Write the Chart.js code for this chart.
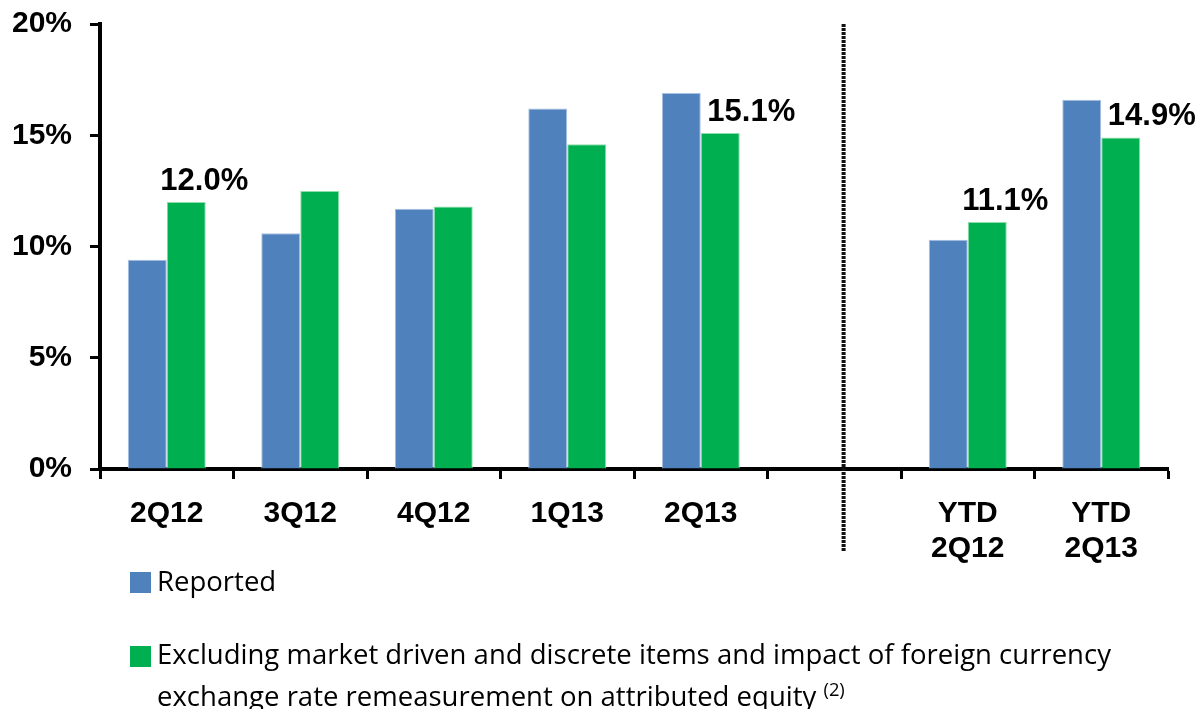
<!DOCTYPE html>
<html>
<head>
<meta charset="utf-8">
<script src="https://cdn.jsdelivr.net/npm/chart.js@4.4.0/dist/chart.umd.min.js"></script>
<style>
  html, body { margin: 0; padding: 0; background: #fff; }
  #wrap { position: relative; width: 1199px; height: 709px; overflow: hidden; }
  #chart { position: absolute; left: 0; top: 0; }
  .box { position: absolute; left: 130px; width: 21px; height: 21px; }
  .txt { position: absolute; left: 157px; font-family: 'Open Sans', sans-serif; font-size: 27px;
         line-height: 28px; color: #000; white-space: nowrap; transform-origin: 0 0; }
  .sup { font-size: 18px; vertical-align: 10px; }
</style>
</head>
<body>
<div id="wrap">
  <canvas id="chart" width="1199" height="709"></canvas>
  <div class="box" style="top:572px; background:#4F81BD"></div>
  <div class="txt" style="top:567px">Reported</div>
  <div class="box" style="top:646px; background:#00B050"></div>
  <div class="txt" id="line1" style="top:640px">Excluding market driven and discrete items and impact of foreign currency</div>
  <div class="txt" style="top:675px">exchange rate remeasurement on attributed equity <span class="sup">(2)</span></div>
</div>
<script>
// values (%)
const categories = ["2Q12", "3Q12", "4Q12", "1Q13", "2Q13", "", ["YTD", "2Q12"], ["YTD", "2Q13"]];
const reported = [9.4, 10.6, 11.7, 16.2, 16.9, null, 10.3, 16.6];
const excluding = [12.0, 12.5, 11.8, 14.6, 15.1, null, 11.1, 14.9];
const labelledPoints = [0, 4, 6, 7];
const yMin = 0, yMax = 20, yStep = 5;

const boldFont = "'Liberation Sans', Arial, sans-serif";

// squeeze legend text to the width it has in the original
const line1 = document.getElementById("line1");
const k = 954 / line1.offsetWidth;
document.querySelectorAll(".txt").forEach(function(el) {
  el.style.transform = "scaleX(" + k + ")";
});

const extras = {
  id: "extras",
  afterDatasetsDraw: function(chart) {
    const ctx = chart.ctx;
    const green = chart.getDatasetMeta(1);
    const xs = chart.scales.x;
    ctx.save();

    ctx.font = "bold 31px " + boldFont;
    ctx.fillStyle = "#000";
    ctx.textAlign = "center";
    ctx.textBaseline = "alphabetic";
    labelledPoints.forEach(function(i) {
      const bar = green.data[i];
      const shift = reported[i] > excluding[i] ? 31 : 18;
      ctx.fillText(excluding[i].toFixed(1) + "%", bar.x + shift, bar.y - 12);
    });

    // separator between quarters and YTD
    const step = xs.getPixelForValue(6) - xs.getPixelForValue(5);
    const sepX = xs.getPixelForValue(5) + step * 0.07;
    ctx.strokeStyle = "#111";
    ctx.lineWidth = 4;
    ctx.setLineDash([3, 1]);
    ctx.beginPath();
    ctx.moveTo(sepX, chart.chartArea.top);
    ctx.lineTo(sepX, chart.chartArea.bottom + 83);
    ctx.stroke();
    ctx.restore();
  }
};

new Chart(document.getElementById("chart"), {
  type: "bar",
  data: {
    labels: categories,
    datasets: [
      {
        label: "Reported",
        data: reported,
        backgroundColor: "#4F81BD",
        borderColor: "#A9C1E0",
        borderWidth: 1
      },
      {
        label: "Excluding market driven and discrete items",
        data: excluding,
        backgroundColor: "#00B050",
        borderColor: "#8EDDAA",
        borderWidth: 1
      }
    ]
  },
  options: {
    responsive: false,
    animation: false,
    categoryPercentage: 0.584,
    barPercentage: 1,
    layout: { padding: { top: 24, right: 31, left: 0, bottom: 0 } },
    plugins: { legend: { display: false }, tooltip: { enabled: false } },
    scales: {
      x: {
        grid: { drawOnChartArea: false, drawTicks: true, tickLength: 10, tickWidth: 3, tickColor: "#000", offset: true },
        border: { display: true, color: "#000", width: 4 },
        ticks: {
          color: "#000",
          font: { family: boldFont, size: 30, weight: "bold", lineHeight: 1.17 },
          padding: 17,
          maxRotation: 0,
          autoSkip: false
        },
        afterFit: function(s) { s.height = 240; }
      },
      y: {
        min: yMin,
        max: yMax,
        grid: { drawOnChartArea: false, drawTicks: true, tickLength: 10, tickWidth: 3, tickColor: "#000" },
        border: { display: true, color: "#000", width: 4 },
        ticks: {
          stepSize: yStep,
          color: "#000",
          font: { family: boldFont, size: 30, weight: "bold" },
          padding: 18,
          callback: function(v) { return v + "%"; }
        },
        afterFit: function(s) {
          s.width = 100;
          s.paddingTop = 0;
          s.paddingBottom = 0;
        }
      }
    }
  },
  plugins: [extras]
});
</script>
</body>
</html>
